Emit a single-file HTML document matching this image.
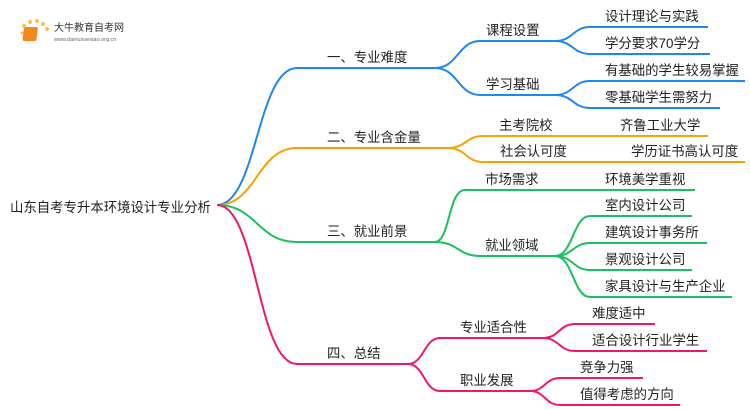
<!DOCTYPE html>
<html><head><meta charset="utf-8"><style>
html,body{margin:0;padding:0;background:#fff;}
svg{display:block;}
text{font-family:"Liberation Sans","Noto Sans CJK SC",sans-serif;font-size:13.4px;fill:#222;}
</style></head><body>
<svg width="750" height="410" viewBox="0 0 750 410" xmlns="http://www.w3.org/2000/svg">
<g fill="none" stroke-width="2">
<g stroke="#1e88f0">
<path d="M217 205 C257 205 257 68 297 68 L435 68"/>
<path d="M435 68 C458 68 458 41 480 41 L555 41"/>
<path d="M435 68 C458 68 458 95 480 95 L555 95"/>
<path d="M555 41 C573 41 573 27 590 27 L708 27"/>
<path d="M555 41 C573 41 573 54 590 54 L710 54"/>
<path d="M555 95 C573 95 573 81 590 81 L745 81"/>
<path d="M555 95 C573 95 573 108 590 108 L720 108"/>
</g>
<g stroke="#f5a300">
<path d="M217 205 C257 205 257 148 297 148 L448 148"/>
<path d="M448 148 C466 148 466 136 483 136 L708 136"/>
<path d="M448 148 C466 148 466 162 483 162 L745 162"/>
</g>
<g stroke="#1dbf5e">
<path d="M217 205 C257 205 257 242 297 242 L435 242"/>
<path d="M435 242 C450 242 448 190 465 190 L695 190"/>
<path d="M435 242 C458 242 458 256 480 256 L555 256"/>
<path d="M555 256 C573 256 573 216 590 216 L692 216"/>
<path d="M555 256 C573 256 573 243 590 243 L707 243"/>
<path d="M555 256 C573 256 573 270 590 270 L692 270"/>
<path d="M555 256 C573 256 573 297 590 297 L732 297"/>
</g>
<g stroke="#f0166e">
<path d="M217 205 C257 205 257 364 297 364 L408 364"/>
<path d="M408 364 C424 364 424 338 440 338 L543 338"/>
<path d="M408 364 C424 364 424 391 440 391 L530 391"/>
<path d="M543 338 C559 338 559 324 575 324 L655 324"/>
<path d="M543 338 C559 338 559 351 575 351 L707 351"/>
<path d="M530 391 C545 391 545 378 560 378 L643 378"/>
<path d="M530 391 C545 391 545 405 560 405 L680 405"/>
</g>
</g>
<g>
<circle cx="24" cy="26" r="2" fill="#f7c04a"/><circle cx="30" cy="22" r="2" fill="#f7c04a"/><circle cx="37" cy="21" r="2" fill="#f7c04a"/><circle cx="43" cy="24" r="2" fill="#f7c04a"/><circle cx="47" cy="29" r="2" fill="#f7c04a"/><circle cx="22" cy="33" r="1.5" fill="#f7c04a"/>
<rect x="28" y="27" width="14" height="14" rx="2" fill="#f08a1c" transform="skewX(-8)"/>
<text x="54" y="31" style="font-size:10px;fill:#333">大牛教育自考网</text>
<text x="54" y="41" style="font-size:5.5px;fill:#666">www.daniuxuexiao.org.cn</text>
</g>
<text x="10" y="212">山东自考专升本环境设计专业分析</text>
<text x="327" y="62">一、专业难度</text>
<text x="327" y="142">二、专业含金量</text>
<text x="327" y="236">三、就业前景</text>
<text x="327" y="358">四、总结</text>
<text x="486" y="35">课程设置</text>
<text x="486" y="89">学习基础</text>
<text x="605" y="21">设计理论与实践</text>
<text x="605" y="48">学分要求70学分</text>
<text x="605" y="75">有基础的学生较易掌握</text>
<text x="605" y="102">零基础学生需努力</text>
<text x="499" y="130">主考院校</text>
<text x="500" y="156">社会认可度</text>
<text x="620" y="130">齐鲁工业大学</text>
<text x="631" y="156">学历证书高认可度</text>
<text x="485" y="184">市场需求</text>
<text x="605" y="184">环境美学重视</text>
<text x="485" y="250">就业领域</text>
<text x="605" y="210">室内设计公司</text>
<text x="605" y="237">建筑设计事务所</text>
<text x="605" y="264">景观设计公司</text>
<text x="605" y="291">家具设计与生产企业</text>
<text x="460" y="332">专业适合性</text>
<text x="460" y="385">职业发展</text>
<text x="592" y="318">难度适中</text>
<text x="592" y="345">适合设计行业学生</text>
<text x="580" y="372">竞争力强</text>
<text x="580" y="399">值得考虑的方向</text>
</svg>
</body></html>
